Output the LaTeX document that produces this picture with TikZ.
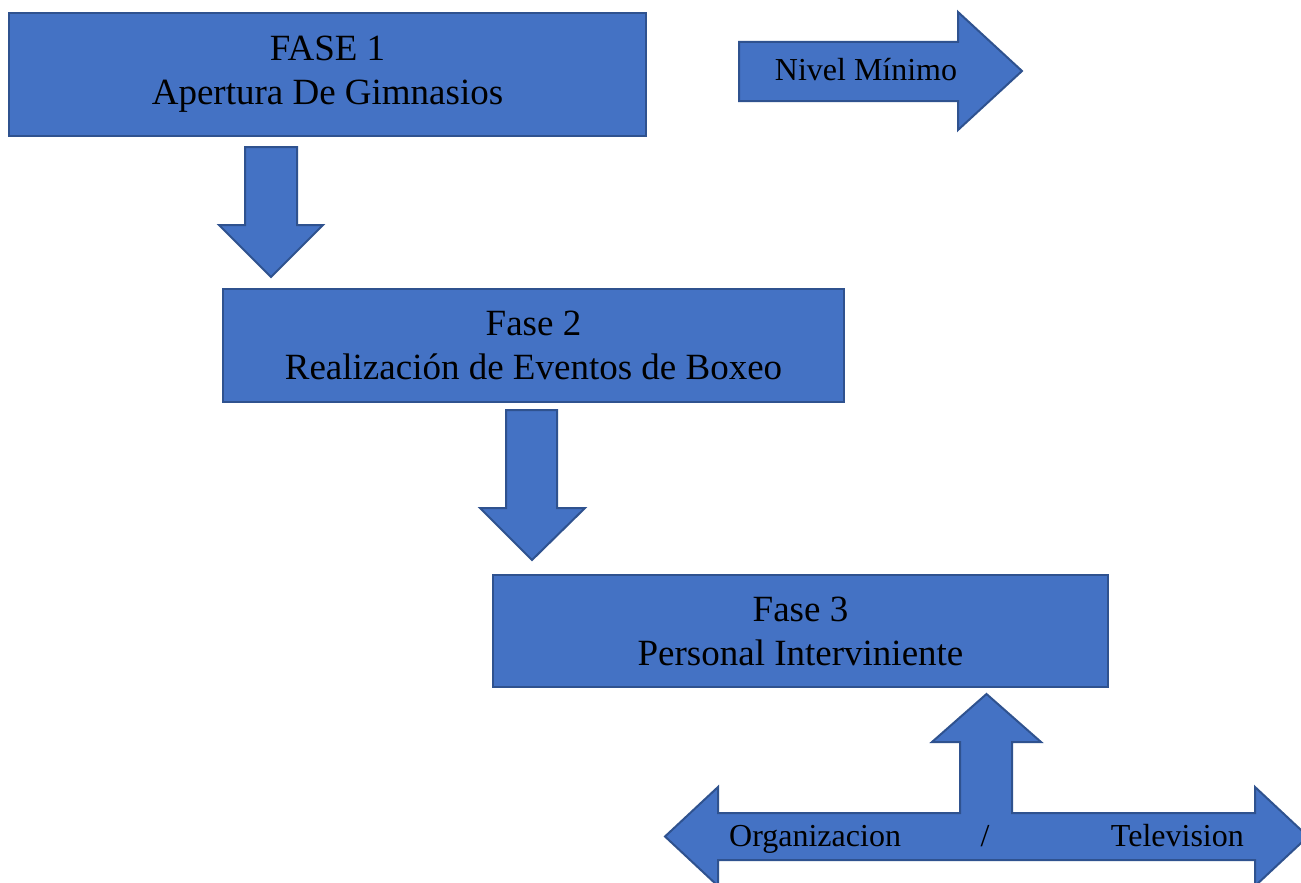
\documentclass[tikz,border=0pt]{standalone}
\usepackage{fontspec}
\setmainfont{Liberation Serif}
\definecolor{boxfill}{HTML}{4472C4}
\definecolor{boxline}{HTML}{2F528F}
\tikzset{
  phasebox/.style={draw=boxline, fill=boxfill, line width=2pt, inner sep=0pt, align=center,
    font=\fontsize{37}{44}\selectfont, text=black},
  blockarrow/.style={draw=boxline, fill=boxfill, line width=2pt, line join=miter},
  arrowtext/.style={font=\fontsize{32}{38}\selectfont, text=black, inner sep=0pt}
}
\begin{document}
\begin{tikzpicture}[x=1pt,y=-1pt]
\clip (0,0) rectangle (1301,883);
\useasboundingbox (0,0) rectangle (1301,883);
\fill[white] (0,0) rectangle (1301,883);

% phase boxes
\node[phasebox, minimum width=637pt, minimum height=123pt] (f1) at (327.5,74.5) {FASE 1\\Apertura De Gimnasios};
\node[phasebox, minimum width=621pt, minimum height=113pt] (f2) at (533.5,345.5) {Fase 2\\Realización de Eventos de Boxeo};
\node[phasebox, minimum width=615pt, minimum height=112pt] (f3) at (800.5,631) {Fase 3\\Personal Interviniente};

% Nivel Minimo arrow
\draw[blockarrow] (739,42) -- (958,42) -- (958,12) -- (1022,71) -- (958,130) -- (958,101) -- (739,101) -- cycle;
\node[arrowtext, anchor=base] (nivel) at (866,81) {Nivel Mínimo};

% down arrow 1
\draw[blockarrow] (245,147) -- (297,147) -- (297,225) -- (323,225) -- (271,277) -- (219,225) -- (245,225) -- cycle;
% down arrow 2
\draw[blockarrow] (506,410) -- (557,410) -- (557,508) -- (585,508) -- (532,560) -- (480,508) -- (506,508) -- cycle;

% bottom T arrow
\draw[blockarrow] (665,836.5) -- (718,787) -- (718,813) -- (960,813) -- (960,742) -- (932,742)
  -- (986.5,694) -- (1041,742) -- (1012,742) -- (1012,813) -- (1255,813) -- (1255,787)
  -- (1308,836.5) -- (1255,886) -- (1255,860) -- (718,860) -- (718,886) -- cycle;
\node[arrowtext, anchor=base west] (org) at (729,846) {Organizacion};
\node[arrowtext, anchor=base] (slash) at (985,846) {/};
\node[arrowtext, anchor=base east] (tv) at (1244,846) {Television};
\end{tikzpicture}
\end{document}
